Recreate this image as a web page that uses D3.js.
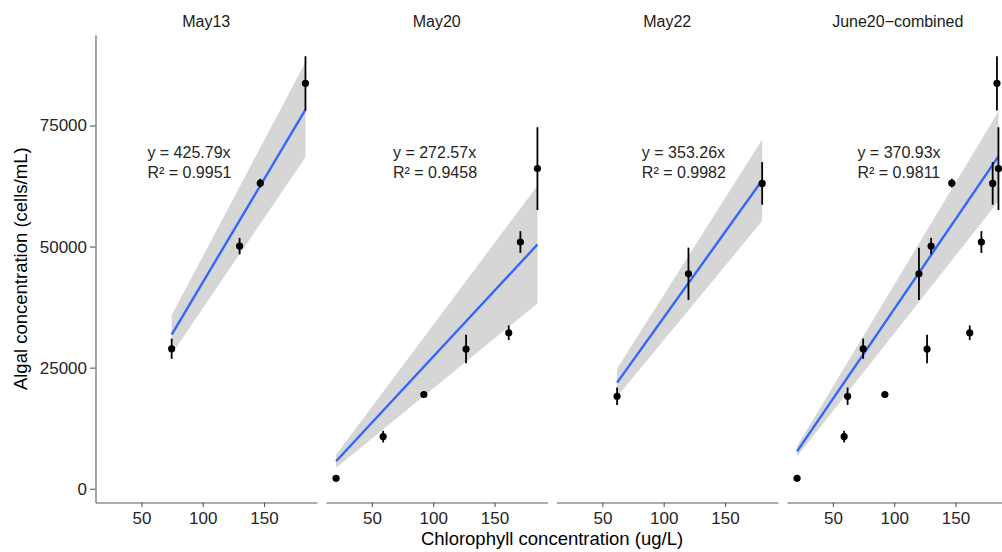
<!DOCTYPE html>
<html>
<head>
<meta charset="utf-8">
<script src="https://cdn.jsdelivr.net/npm/d3@7"></script>
<style>
  html, body { margin: 0; padding: 0; background: #fff; }
  svg { display: block; font-family: "Liberation Sans", Arial, Helvetica, sans-serif; }
</style>
</head>
<body>
<svg id="chart" width="1002" height="552"></svg>
<script>
// Chlorophyll (ug/L) against algal density (cells/mL); mean ± sd per sample.
const may13Chl   = [74.7, 130.1, 147.0, 183.8];
const may13Algae = [28900, 50100, 63100, 83700];
const may13Sd    = [2100, 1700, 900, 5600];

const may20Chl   = [20.8, 59.2, 92.4, 126.8, 161.6, 171.1, 185.0];
const may20Algae = [2140, 10760, 19450, 28850, 32200, 50930, 66100];
const may20Sd    = [600, 1200, 350, 2950, 1500, 2250, 8550];

const may22Chl   = [62.0, 120.2, 180.3];
const may22Algae = [19090, 44380, 63040];
const may22Sd    = [1800, 5400, 4400];

const panelNames = ["May13", "May20", "May22", "June20\u2212combined"];
const eqSlopes   = [425.79, 272.57, 353.26, 370.93];
const eqR2       = ["0.9951", "0.9458", "0.9982", "0.9811"];

const xTicks = [50, 100, 150];
const yTicks = [0, 25000, 50000, 75000];

// two-sided 95% t quantiles by degrees of freedom (1..20)
const t975 = [12.706, 4.303, 3.182, 2.776, 2.571, 2.447, 2.365, 2.306, 2.262, 2.228,
              2.201, 2.179, 2.160, 2.145, 2.131, 2.120, 2.110, 2.101, 2.093, 2.086];

// where each equation label starts, in chlorophyll units
const eqLabelX = [54.9, 67.2, 82.2, 70.0];

// ---------------------------------------------------------------------------
const W = 1002, H = 552;
const panelLeft = 95.5, panelStep = 230.5, panelW = 221.5;
const panelTop = 35, panelBottom = 502.5;
const axisColor = "#5a5a5a", textColor = "#262626";

function series(chl, algae, sd) {
  return chl.map((x, i) => ({ x: x, y: algae[i], sd: sd[i] }));
}

const panels = [
  { pts: series(may13Chl, may13Algae, may13Sd) },
  { pts: series(may20Chl, may20Algae, may20Sd) },
  { pts: series(may22Chl, may22Algae, may22Sd) },
  { pts: series(may13Chl.concat(may20Chl, may22Chl),
                may13Algae.concat(may20Algae, may22Algae),
                may13Sd.concat(may20Sd, may22Sd)) }
];

// regression through the origin: line from the reported slope,
// 95% confidence band from the residual standard error of the fit
panels.forEach((p, i) => {
  p.name = panelNames[i];
  p.slope = eqSlopes[i];
  p.r2 = eqR2[i];
  const sxx = d3.sum(p.pts, d => d.x * d.x);
  const bHat = d3.sum(p.pts, d => d.x * d.y) / sxx;
  const sse = d3.sum(p.pts, d => (d.y - bHat * d.x) ** 2);
  const df = p.pts.length - 1;
  p.half = t975[df - 1] * Math.sqrt(sse / df / sxx);
  p.xr = d3.extent(p.pts, d => d.x);
});

// shared scales (5% expansion on each side)
function expand(ext) {
  const pad = (ext[1] - ext[0]) * 0.05;
  return [ext[0] - pad, ext[1] + pad];
}
const allX = panels.flatMap(p => p.pts.map(d => d.x));
const xDomain = expand(d3.extent(allX));
const yLow = d3.min(panels, p => Math.min(d3.min(p.pts, d => d.y - d.sd),
                                          d3.min(p.xr, x => (p.slope - p.half) * x)));
const yHigh = d3.max(panels, p => Math.max(d3.max(p.pts, d => d.y + d.sd),
                                           d3.max(p.xr, x => (p.slope + p.half) * x)));
const yDomain = expand([yLow, yHigh]);

const y = d3.scaleLinear().domain(yDomain).range([panelBottom, panelTop]);

const svg = d3.select("#chart");

panels.forEach((p, i) => {
  const left = panelLeft + i * panelStep;
  const x = d3.scaleLinear().domain(xDomain).range([left, left + panelW]);
  const g = svg.append("g").attr("class", "panel");

  // confidence band
  const band = d3.area()
    .x(v => x(v))
    .y0(v => y((p.slope - p.half) * v))
    .y1(v => y((p.slope + p.half) * v));
  g.append("path")
    .datum(p.xr)
    .attr("d", band)
    .attr("fill", "#999999")
    .attr("fill-opacity", 0.4);

  // fitted line
  g.append("path")
    .datum(p.xr)
    .attr("d", d3.line().x(v => x(v)).y(v => y(p.slope * v)))
    .attr("fill", "none")
    .attr("stroke", "#3366FF")
    .attr("stroke-width", 2.4);

  // error bars
  g.selectAll("line.err")
    .data(p.pts)
    .join("line")
    .attr("class", "err")
    .attr("x1", d => x(d.x)).attr("x2", d => x(d.x))
    .attr("y1", d => y(d.y - d.sd)).attr("y2", d => y(d.y + d.sd))
    .attr("stroke", "#000")
    .attr("stroke-width", 1.8);

  // means
  g.selectAll("circle")
    .data(p.pts)
    .join("circle")
    .attr("cx", d => x(d.x))
    .attr("cy", d => y(d.y))
    .attr("r", 3.6)
    .attr("fill", "#000");

  // facet title
  svg.append("text")
    .attr("x", left + panelW / 2)
    .attr("y", 26.5)
    .attr("text-anchor", "middle")
    .attr("font-size", 16)
    .attr("fill", "#1a1a1a")
    .text(p.name);

  // equation labels
  const eq = svg.append("text")
    .attr("font-size", 16)
    .attr("fill", textColor);
  eq.append("tspan")
    .attr("x", x(eqLabelX[i])).attr("y", 158)
    .text("y = " + p.slope.toFixed(2) + "x");
  eq.append("tspan")
    .attr("x", x(eqLabelX[i])).attr("y", 177.5)
    .text("R\u00b2 = " + p.r2);

  // x axis
  const ax = svg.append("g")
    .attr("transform", `translate(0,${panelBottom})`)
    .call(d3.axisBottom(x).tickValues(xTicks).tickSize(4.5).tickPadding(5).tickSizeOuter(0));
  ax.select(".domain").attr("stroke", axisColor).attr("stroke-width", 1.1);
  ax.selectAll(".tick line").attr("stroke", axisColor).attr("stroke-width", 1.1);
  ax.selectAll(".tick text")
    .attr("font-size", 17)
    .attr("font-family", "Liberation Sans, Arial, Helvetica, sans-serif")
    .attr("fill", textColor);

  // y axis only on the first panel
  if (i === 0) {
    const ay = svg.append("g")
      .attr("transform", `translate(${left},0)`)
      .call(d3.axisLeft(y).tickValues(yTicks).tickSize(5.5).tickPadding(3)
              .tickSizeOuter(0).tickFormat(d3.format("d")));
    ay.select(".domain").attr("stroke", axisColor).attr("stroke-width", 1.1);
    ay.selectAll(".tick line").attr("stroke", axisColor).attr("stroke-width", 1.1);
    ay.selectAll(".tick text")
      .attr("font-size", 17)
      .attr("font-family", "Liberation Sans, Arial, Helvetica, sans-serif")
      .attr("fill", textColor);
  }
});

// axis titles
const plotRight = panelLeft + 3 * panelStep + panelW;
svg.append("text")
  .attr("x", (panelLeft + plotRight) / 2)
  .attr("y", 545)
  .attr("text-anchor", "middle")
  .attr("font-size", 18.5)
  .attr("fill", "#000")
  .text("Chlorophyll concentration (ug/L)");

svg.append("text")
  .attr("transform", `translate(27,${(panelTop + panelBottom) / 2}) rotate(-90)`)
  .attr("text-anchor", "middle")
  .attr("font-size", 18.5)
  .attr("fill", "#000")
  .text("Algal concentration (cells/mL)");
</script>
</body>
</html>
